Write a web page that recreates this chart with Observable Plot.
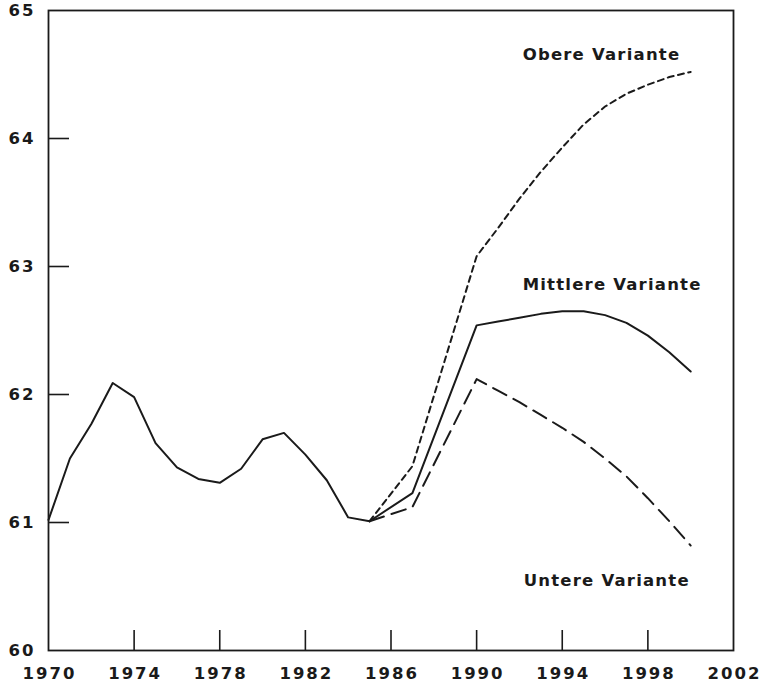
<!DOCTYPE html>
<html>
<head>
<meta charset="utf-8">
<script src="https://cdn.jsdelivr.net/npm/d3@7"></script>
<script src="https://cdn.jsdelivr.net/npm/@observablehq/plot@0.6"></script>
<style>
  html, body { margin: 0; padding: 0; background: #fff; }
  #chart svg { display: block; }
  #chart svg text { font-weight: bold; }
  #chart svg g[aria-label="x-axis tick label"] text,
  #chart svg g[aria-label="y-axis tick label"] text { letter-spacing: 2px; }
  #chart svg g[aria-label="text"] text { letter-spacing: 1.2px; }
</style>
</head>
<body>
<div id="chart"></div>
<script>
// Historical series (1970–1985)
const histYears  = [1970,1971,1972,1973,1974,1975,1976,1977,1978,1979,1980,1981,1982,1983,1984,1985];
const histValues = [61.02,61.50,61.77,62.09,61.98,61.62,61.43,61.34,61.31,61.42,61.65,61.70,61.53,61.33,61.04,61.01];

// Projection years
const projYears = [1985,1987,1990,1991,1992,1993,1994,1995,1996,1997,1998,1999,2000];
const obereValues    = [61.01,61.44,63.08,63.30,63.53,63.74,63.93,64.11,64.25,64.35,64.42,64.48,64.52];
const mittlereValues = [61.01,61.23,62.54,62.57,62.60,62.63,62.65,62.65,62.62,62.56,62.46,62.33,62.18];
const untereValues   = [61.01,61.12,62.12,62.03,61.94,61.84,61.74,61.63,61.50,61.36,61.19,61.01,60.82];

// Axis ticks
const xTicks = [1970,1974,1978,1982,1986,1990,1994,1998,2002];
const yTicks = [60,61,62,63,64,65];
const xInnerTicks = [1974,1978,1982,1986,1990,1994,1998];
const yInnerTicks = [61,62,63,64];

// Series labels (anchor year, value)
const labelTexts  = ["Obere Variante","Mittlere Variante","Untere Variante"];
const labelYears  = [1992.15,1992.15,1992.2];
const labelValues = [64.655,62.855,60.545];

const hist = histYears.map((x,i)=>({x, y: histValues[i]}));
const obere = projYears.map((x,i)=>({x, y: obereValues[i]}));
const mittlere = projYears.map((x,i)=>({x, y: mittlereValues[i]}));
const untere = projYears.map((x,i)=>({x, y: untereValues[i]}));
const labels = labelTexts.map((t,i)=>({t, x: labelYears[i], y: labelValues[i]}));

const W = 761, H = 683, mL = 48, mR = 28, mT = 10, mB = 33;
const frameW = W - mL - mR, frameH = H - mT - mB;
const ink = "#1a1a1a";
const fs = 16.5;

const chart = Plot.plot({
  width: W, height: H,
  marginLeft: mL, marginRight: mR, marginTop: mT, marginBottom: mB,
  style: {fontFamily: "'DejaVu Sans', sans-serif", fontWeight: "bold", color: ink, background: "#fff"},
  x: {domain: [1970, 2002]},
  y: {domain: [60, 65]},
  marks: [
    Plot.frame({stroke: ink, strokeWidth: 1.8}),
    Plot.ruleX(xInnerTicks, {x: d => d, stroke: ink, strokeWidth: 1.6, insetTop: frameH - 20}),
    Plot.ruleY(yInnerTicks, {y: d => d, stroke: ink, strokeWidth: 1.6, insetRight: frameW - 21}),
    Plot.axisX({ticks: xTicks, tickSize: 0, tickPadding: 17, tickFormat: d => String(d), fontSize: fs, fontWeight: "bold", label: null, fill: ink, dx: 1}),
    Plot.axisY({ticks: yTicks, tickSize: 0, tickPadding: 13, tickFormat: d => String(d), fontSize: fs, fontWeight: "bold", label: null, fill: ink}),
    Plot.line(hist, {x: "x", y: "y", stroke: ink, strokeWidth: 2}),
    Plot.line(mittlere, {x: "x", y: "y", stroke: ink, strokeWidth: 2}),
    Plot.line(obere, {x: "x", y: "y", stroke: ink, strokeWidth: 2, strokeDasharray: "6,4.5"}),
    Plot.line(untere, {x: "x", y: "y", stroke: ink, strokeWidth: 2, strokeDasharray: "15,8"}),
    Plot.text(labels, {x: "x", y: "y", text: "t", textAnchor: "start", fontSize: fs, fontWeight: "bold", fill: ink})
  ]
});
document.getElementById("chart").appendChild(chart);
</script>
</body>
</html>
